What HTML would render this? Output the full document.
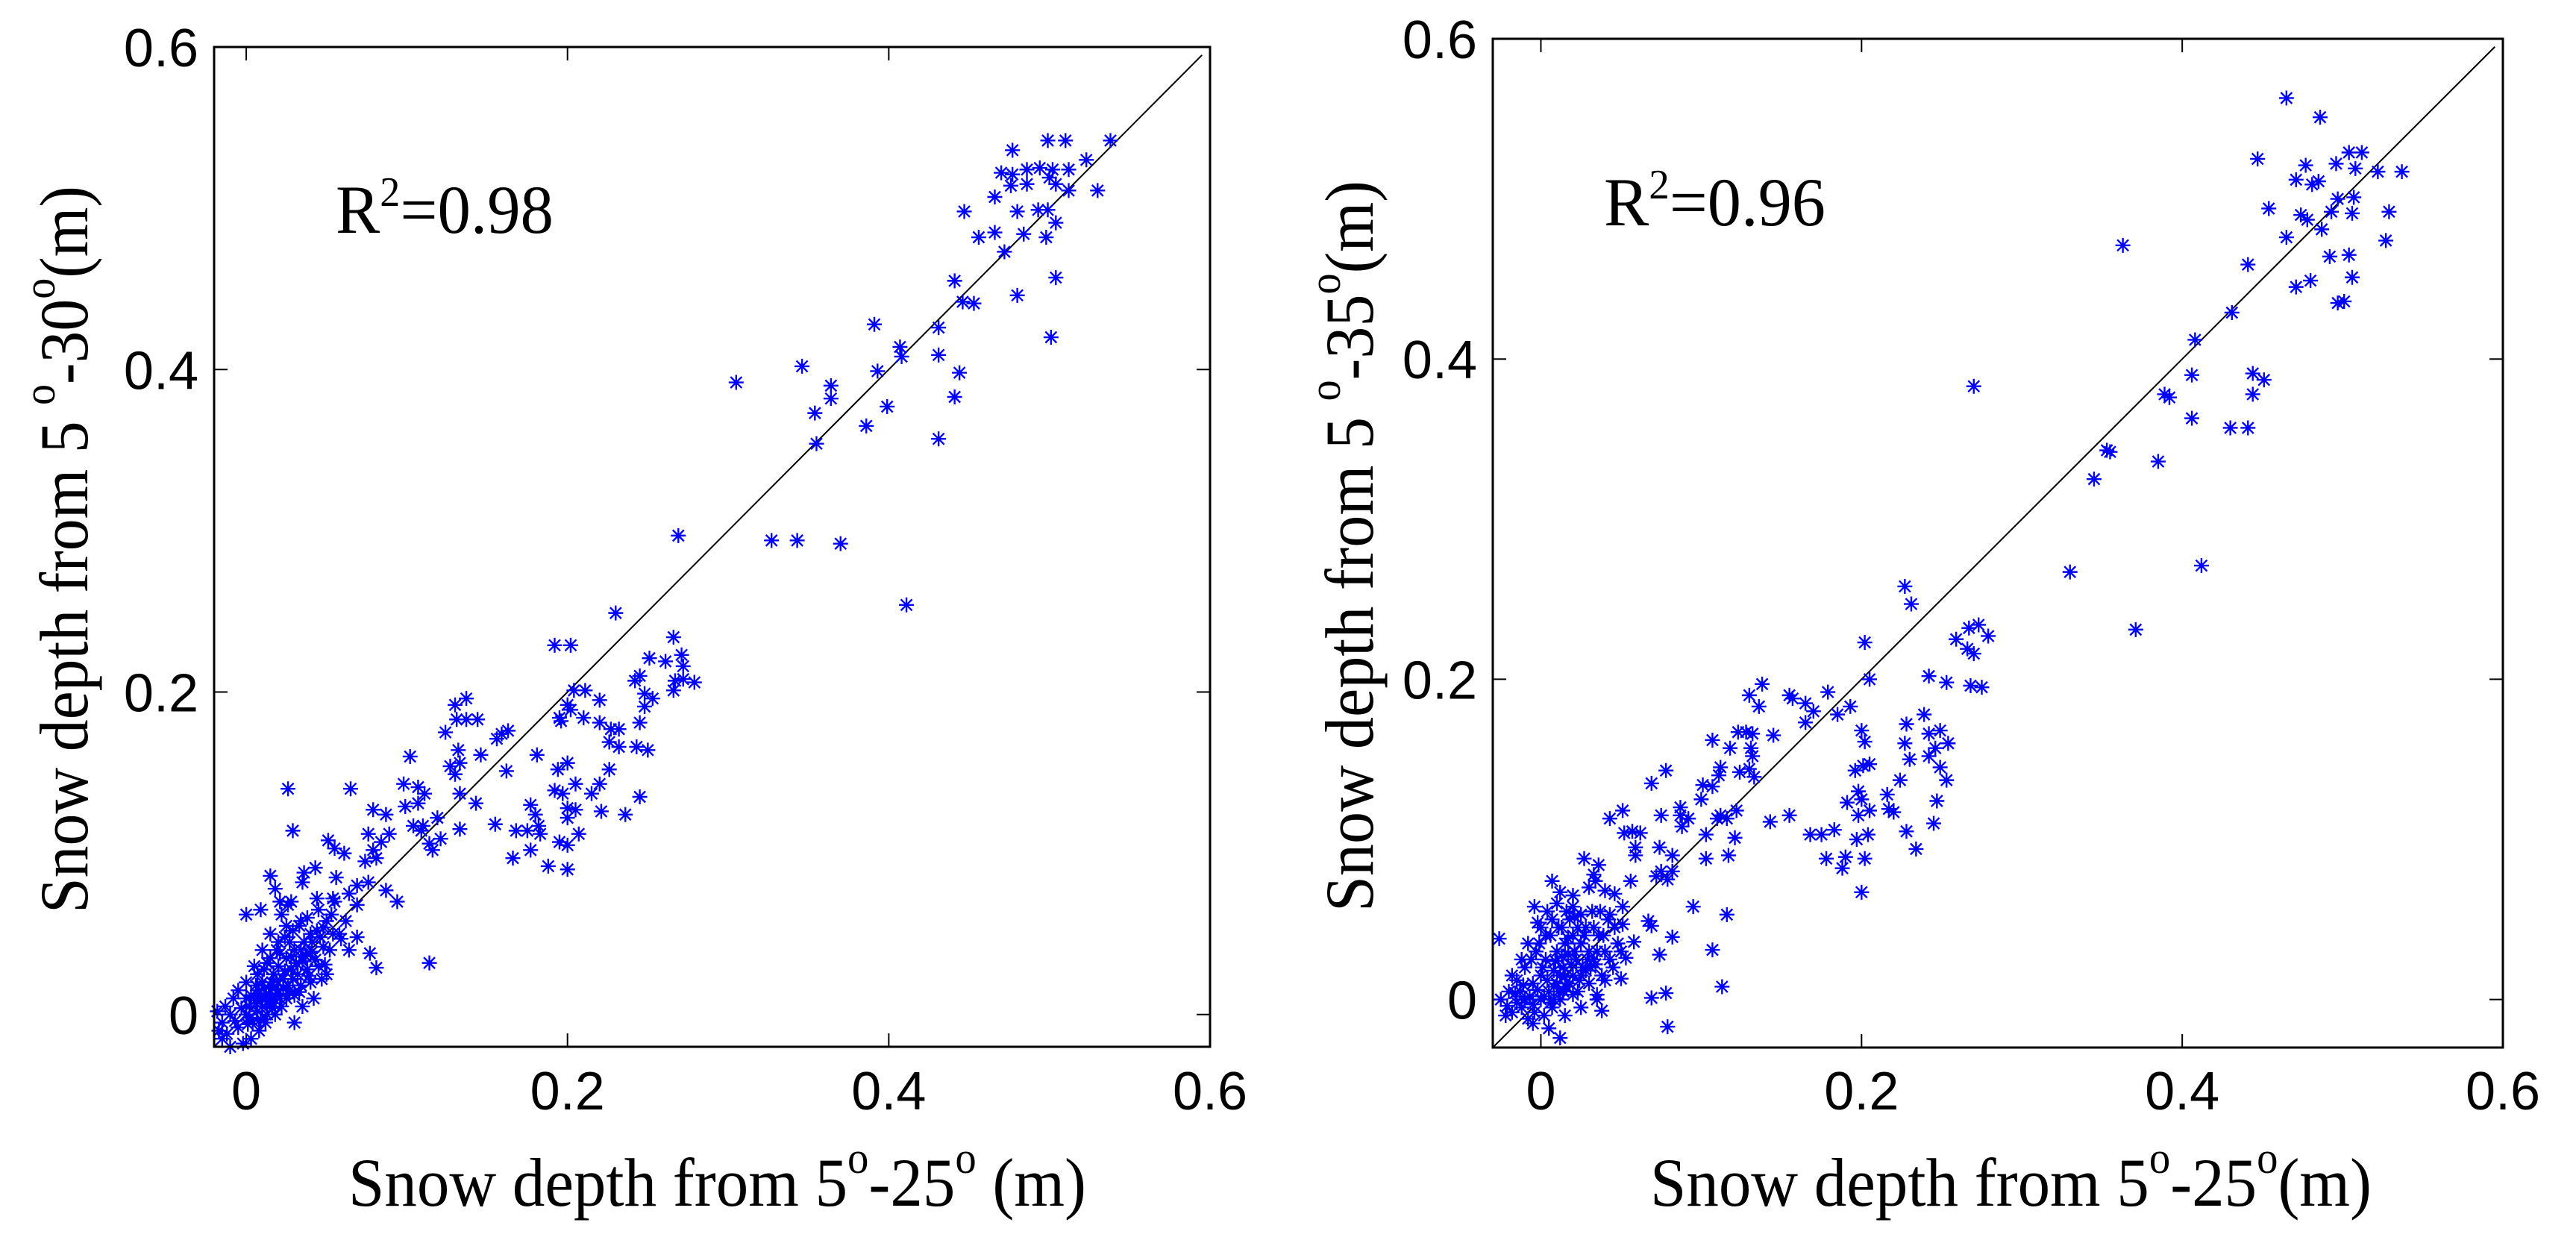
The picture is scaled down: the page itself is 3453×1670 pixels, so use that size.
<!DOCTYPE html>
<html><head><meta charset="utf-8"><style>
html,body{margin:0;padding:0;background:#fff}
svg{display:block}
.tk{font-family:"Liberation Sans",sans-serif;font-size:72px;fill:#000}
.lb{font-family:"Liberation Serif",serif;font-size:92px;fill:#000}
</style></head><body>
<svg id="fig" width="3453" height="1670" viewBox="0 0 3453 1670" xmlns="http://www.w3.org/2000/svg">
<rect width="3453" height="1670" fill="#fff"/>
<g id="p1"></g>
<g id="p2"></g>
<text class="lb" x="467" y="1616" textLength="989" lengthAdjust="spacingAndGlyphs">Snow depth from 5<tspan dy="-44" font-size="60">o</tspan><tspan dy="44">-25</tspan><tspan dy="-44" font-size="60">o</tspan><tspan dy="44"> (m)</tspan></text>
<text class="lb" x="2212" y="1616" textLength="967" lengthAdjust="spacingAndGlyphs">Snow depth from 5<tspan dy="-44" font-size="60">o</tspan><tspan dy="44">-25</tspan><tspan dy="-44" font-size="60">o</tspan><tspan dy="44">(m)</tspan></text>
<text class="lb" transform="translate(117,1224) rotate(-90)" x="0" y="0" textLength="975" lengthAdjust="spacingAndGlyphs">Snow depth from 5 <tspan dy="-44" font-size="60">o</tspan><tspan dy="44">-30</tspan><tspan dy="-44" font-size="60">o</tspan><tspan dy="44">(m)</tspan></text>
<text class="lb" transform="translate(1840,1222) rotate(-90)" x="0" y="0" textLength="980" lengthAdjust="spacingAndGlyphs">Snow depth from 5 <tspan dy="-44" font-size="60">o</tspan><tspan dy="44">-35</tspan><tspan dy="-44" font-size="60">o</tspan><tspan dy="44">(m)</tspan></text>
<text class="lb" x="450" y="312" font-size="86" textLength="292" lengthAdjust="spacingAndGlyphs">R<tspan dy="-36" font-size="56">2</tspan><tspan dy="36">=0.98</tspan></text>
<text class="lb" x="2150" y="302" font-size="86" textLength="297" lengthAdjust="spacingAndGlyphs">R<tspan dy="-36" font-size="56">2</tspan><tspan dy="36">=0.96</tspan></text>
</svg>
<script>
const xTicks=[0,0.2,0.4,0.6];
const yTicks=[0,0.2,0.4,0.6];
const tickLabels=["0","0.2","0.4","0.6"];
const leftData=[[.477,.536],[.499,.542],[.510,.542],[.538,.542],[.523,.530],[.470,.522],[.477,.521],[.486,.524],[.494,.525],[.502,.524],[.512,.524],[.466,.507],[.476,.514],[.486,.515],[.500,.519],[.504,.515],[.512,.511],[.530,.511],[.447,.498],[.480,.498],[.493,.499],[.499,.499],[.504,.491],[.456,.482],[.466,.485],[.484,.484],[.498,.482],[.472,.473],[.441,.455],[.504,.457],[.480,.446],[.446,.442],[.453,.441],[.501,.420],[.391,.428],[.431,.426],[.431,.409],[.407,.414],[.408,.408],[.393,.399],[.444,.398],[.399,.377],[.441,.383],[.346,.402],[.364,.390],[.364,.382],[.354,.373],[.386,.365],[.431,.357],[.355,.354],[.305,.392],[.327,.294],[.343,.294],[.370,.292],[.269,.297],[.411,.254],[.230,.249],
[.192,.229],[.202,.229],[.266,.234],[.251,.221],[.261,.219],[.271,.223],[.272,.216],[.267,.207],[.279,.206],[.272,.208],[.266,.201],[.242,.207],[.245,.210],[.248,.199],[.253,.196],[.248,.191],[.245,.181],[.204,.201],[.211,.201],[.220,.195],[.200,.192],[.202,.189],[.195,.184],[.196,.182],[.210,.184],[.220,.181],[.227,.177],[.232,.177],[.226,.169],[.232,.166],[.243,.166],[.250,.164],[.226,.152],[.200,.156],[.205,.143],[.194,.152],[.192,.139],[.197,.137],[.220,.143],[.215,.137],[.221,.126],[.200,.128],[.205,.127],[.200,.122],[.207,.112],[.200,.105],[.195,.107],[.236,.124],[.245,.135],[.181,.161],[.180,.124],[.177,.130],[.168,.114],[.175,.114],[.182,.117],[.183,.112],[.177,.102],[.166,.097],[.188,.092],[.200,.090],[.155,.118],[.162,.151],[.159,.174],[.163,.176],[.156,.171],[.146,.161],[.144,.183],[.137,.196],[.130,.192],[.131,.183],[.137,.183],[.124,.175],[.132,.164],[.133,.156],[.127,.154],[.130,.149],[.133,.137],[.143,.131],[.119,.122],[.121,.109],[.116,.102],[.114,.106],[.133,.115],[.110,.117],[.107,.131],[.111,.137],[.104,.117],[.099,.129],[.098,.143],[.107,.141],[.102,.160],[.109,.114],[.089,.112],[.084,.107],[.079,.127],[.087,.124],[.076,.112],[.079,.102],[.081,.097],[.074,.095],[.069,.080],[.087,.077],[.094,.070],[.076,.082],[.069,.068],[.077,.038],[.081,.029],[.114,.032],[.065,.140],[.026,.140],[.029,.114],[.000,.062],[.051,.108],[.055,.103],[.061,.100],[.043,.091],[.056,.085],[.064,.075],[.036,.088],[.015,.086],[.009,.065],[.021,.070],[.035,.082],[.044,.072],[.054,.072],[.048,.054],[.054,.050],[.059,.047],[.069,.048],[.064,.040],[.049,.031],[.041,.039],[.034,.058],[.026,.068],
[-.015,-.005],[-.01,0],[-.012,-.012],[-.008,.01],[-.005,-.008],[0,0],[.002,.005],[.004,-.004],[.005,.01],[.007,.002],[.008,.015],[.01,.005],[.01,.02],[.012,.01],[.013,0],[.015,.018],[.015,.008],[.017,.025],[.018,.012],[.02,.03],[.02,.015],[.022,.005],[.023,.022],[.025,.035],[.026,.018],[.028,.028],[.03,.012],[.03,.04],[.032,.025],[.034,.018],[.035,.033],[.036,.045],[.038,.028],[.04,.02],[.04,.038],[.042,.01],[.045,.03],[.048,.042],[.05,.025],[.005,.03],[0,.02],[-.005,.015],[.01,.04],[.015,.05],[.02,.045],[.025,.055],[.015,.035],[.008,-.01],[.003,-.015],[-.002,-.018],[.012,-.005],[.018,0],[.025,.01],[.03,-.005],[.035,.005],[-.018,.002],[-.015,-.015],[-.01,-.02],[0,.01],[.006,.018],[.011,.028],[.016,.02],[.021,.038],[.027,.045],[.033,.055],[.038,.06],[.044,.052],[.022,.062],[.028,.07],[.018,.078],[.045,.065],[.05,.058],[.055,.07],
[-.017,-.01],[-.013,.005],[-.007,-.004],[-.003,.004],[.001,-.006],[.003,.012],[.006,.007],[.009,.011],[.011,.016],[.014,.013],[.016,.004],[.019,.021],[.021,.01],[.024,.027],[.027,.015],[.029,.022],[.031,.032],[.033,.014],[.037,.036],[.039,.024],[.041,.045],[.043,.034],[.047,.022],[.052,.04],[.058,.05],[.062,.058],[.007,.025],[.013,.032],[.019,.04],[.024,.048],[.029,.052],[.002,-.002],[.009,-.003],[.017,.007],[.023,.016],[.028,.036],[.034,.04],[.04,.05],[.046,.048],[.053,.062]];
const rightData=[[.465,.563],[.486,.551],[.447,.525],[.471,.512],[.477,.521],[.481,.509],[.485,.511],[.496,.522],[.504,.529],[.512,.529],[.508,.519],[.522,.517],[.537,.517],[.454,.494],[.474,.490],[.478,.487],[.487,.481],[.493,.492],[.497,.500],[.507,.501],[.506,.491],[.529,.492],[.465,.476],[.527,.474],[.492,.464],[.504,.465],[.506,.451],[.471,.445],[.480,.449],[.497,.435],[.501,.436],[.441,.459],[.363,.471],[.431,.429],[.408,.412],[.406,.390],[.444,.391],[.451,.387],[.444,.378],[.389,.378],[.392,.376],[.406,.363],[.430,.357],[.441,.357],[.353,.343],[.355,.342],[.385,.336],[.345,.325],[.330,.267],[.412,.271],[.371,.231],[.270,.383],
[.227,.258],[.231,.247],[.202,.223],[.205,.200],[.267,.232],[.273,.234],[.279,.227],[.259,.225],[.266,.219],[.270,.216],[.268,.196],[.275,.195],[.253,.198],[.242,.202],[.239,.178],[.228,.172],[.227,.160],[.242,.166],[.249,.168],[.254,.160],[.246,.157],[.242,.152],[.249,.145],[.253,.137],[.230,.150],[.224,.137],[.216,.128],[.220,.117],[.217,.119],[.200,.168],[.202,.161],[.196,.143],[.201,.146],[.205,.147],[.198,.130],[.200,.125],[.191,.123],[.198,.115],[.205,.118],[.197,.100],[.204,.103],[.202,.088],[.200,.067],[.190,.089],[.188,.082],[.178,.088],[.175,.103],[.168,.103],[.183,.106],[.228,.105],[.245,.110],[.234,.094],[.247,.124],[.193,.183],[.179,.192],[.185,.178],[.170,.180],[.165,.185],[.157,.188],[.155,.190],[.165,.173],[.145,.165],[.155,.115],[.143,.111],[.138,.197],[.136,.183],[.130,.190],[.123,.167],[.128,.167],[.132,.166],[.131,.157],[.132,.152],[.130,.144],[.133,.139],[.124,.142],[.118,.157],[.112,.145],[.111,.140],[.107,.162],[.107,.133],[.101,.134],[.100,.125],[.110,.113],[.112,.115],[.116,.113],[.122,.118],[.121,.101],[.103,.103],[.103,.088],[.117,.090],[.116,.053],[.113,.008],[.107,.031],[.095,.058],[.087,.115],[.087,.120],[.088,.108],[.092,.113],[.082,.090],[.075,.080],[.082,.080],[.074,.095],[.078,.143],[.075,.115],[.069,.135],[.062,.104],[.072,.077],[.079,.075],[.082,.039],[.074,.028],[.067,.049],[.069,.001],[.078,.004],[.079,-.017],[.057,.105],[.052,.104],[.059,.095],[.059,.090],[.056,.074],[.043,.113],[.051,.118],[.036,.084],[.027,.088],[.033,.078],[.034,.074],[.040,.068],[.046,.066],[.051,.058],[.043,.053],[.051,.047],[.069,.046],[.058,.036],[.053,.026],[.050,.013],[.007,.074],[.012,.067],[.020,.058],[.025,.053],[-.004,.058],[-.002,.048],[-.026,.038],[.012,-.024],[.038,-.007],[.035,.003],
[-.025,0],[-.022,-.01],[-.02,.005],[-.018,-.008],[-.015,.012],[-.012,-.005],[-.01,.02],[-.01,0],[-.008,-.012],[-.005,.01],[-.005,-.003],[-.003,.03],[0,0],[0,.015],[.002,-.01],[.003,.025],[.005,.005],[.006,.04],[.007,-.005],[.008,.018],[.01,.01],[.01,.03],[.012,0],[.013,.045],[.014,.02],[.015,.035],[.016,.008],[.017,.028],[.018,.05],[.02,.015],[.02,.04],[.022,.025],[.023,.005],[.025,.035],[.026,.02],[.028,.045],[.03,.01],[.03,.03],[.032,.055],[.034,.022],[.036,.04],[.038,.015],[.04,.03],[.042,.05],[.045,.02],[.048,.035],[-.008,.035],[-.012,.025],[0,.045],[.004,.055],[.01,.06],[.02,.065],[.03,.07],[-.015,-.002],[-.005,-.015],[.005,-.018],[.015,-.01],[.025,-.005],[.035,0],[-.018,.015],[.008,0],[.012,.015],[.018,.01],[.024,.012],[.028,.018],[.033,.025],[.04,.012],
[-.021,-.004],[-.016,.004],[-.011,.009],[-.007,.002],[-.002,.006],[.001,.02],[.004,.012],[.006,-.002],[.009,.024],[.011,.005],[.013,.027],[.015,.014],[.017,.038],[.019,.022],[.021,.03],[.023,.045],[.025,.015],[.027,.04],[.029,.025],[.031,.02],[.033,.045],[.035,.03],[.037,.055],[.039,.04],[.043,.025],[.046,.045],[.05,.03],[-.006,.025],[-.001,.035],[.003,.04],[.007,.05],[.011,.045],[.016,.055],[.021,.052],[-.013,.005],[-.004,-.008],[.002,.002],[.008,.008],[.014,.005],[.02,.003]];

const NS='http://www.w3.org/2000/svg';
function mk(tag,attrs,parent){const e=document.createElementNS(NS,tag);for(const k in attrs)e.setAttribute(k,attrs[k]);parent.appendChild(e);return e;}

function panel(g,cfg,data){
  const sx=v=>cfg.L+(v-cfg.xmin)/(cfg.xmax-cfg.xmin)*(cfg.R-cfg.L);
  const sy=v=>cfg.B-(v-cfg.ymin)/(cfg.ymax-cfg.ymin)*(cfg.B-cfg.T);
  xTicks.forEach((t,i)=>{
    const x=sx(t);
    const a=mk('line',{x1:x,y1:cfg.B,x2:x,y2:cfg.B-18,stroke:'#000','stroke-width':2},g);
    
    
    const b=mk('line',{x1:x,y1:cfg.T,x2:x,y2:cfg.T+18,stroke:'#000','stroke-width':2},g);
    
    
    const tx=mk('text',{x:x,y:1487,'text-anchor':'middle',class:'tk'},g);
    tx.textContent=tickLabels[i];
    
    
  });
  yTicks.forEach((t,i)=>{
    const y=sy(t);
    const a=mk('line',{x1:cfg.L,y1:y,x2:cfg.L+18,y2:y,stroke:'#000','stroke-width':2},g);
    
    
    const b=mk('line',{x1:cfg.R,y1:y,x2:cfg.R-18,y2:y,stroke:'#000','stroke-width':2},g);
    
    
    const tx=mk('text',{x:cfg.L-21,y:y+26,'text-anchor':'end',class:'tk'},g);
    tx.textContent=tickLabels[i];
    
    
  });
  const d=mk('line',{x1:sx(cfg.xmin),y1:sy(cfg.ymin),x2:sx(0.595),y2:sy(0.595),stroke:'#000','stroke-width':2},g);
  
  
  const r=10,q=7.5;
  data.forEach(p=>{
    const x=sx(p[0]),y=sy(p[1]);
    const s=mk('path',{d:`M${x-r},${y}H${x+r}M${x},${y-r}V${y+r}M${x-q},${y-q}L${x+q},${y+q}M${x-q},${y+q}L${x+q},${y-q}`,stroke:'#0000ff','stroke-width':2.4,fill:'none'},g);
    
    
  });
  const box=mk('rect',{x:cfg.L,y:cfg.T,width:cfg.R-cfg.L,height:cfg.B-cfg.T,fill:'none',stroke:'#000','stroke-width':3},g);
  
  
}
panel(document.getElementById('p1'),{L:287,R:1622,T:63,B:1403,xmin:-0.02,xmax:0.6,ymin:-0.02,ymax:0.6},leftData);
panel(document.getElementById('p2'),{L:2001,R:3355,T:52,B:1404,xmin:-0.03,xmax:0.6,ymin:-0.03,ymax:0.6},rightData);
</script>
</body></html>
